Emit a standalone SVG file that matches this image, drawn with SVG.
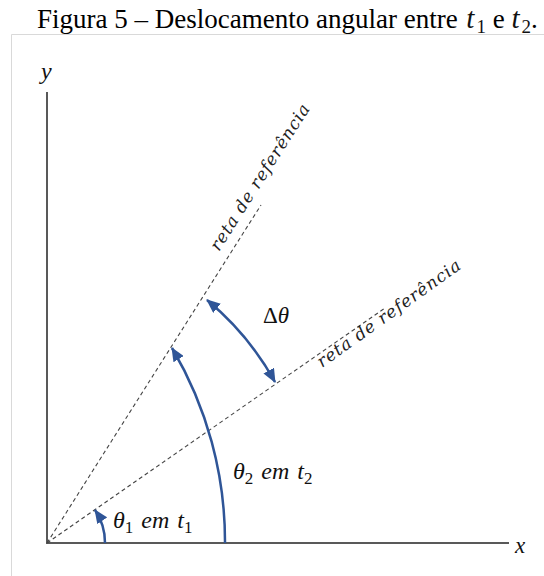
<svg xmlns="http://www.w3.org/2000/svg" width="544" height="576" viewBox="0 0 544 576">
<style>
.title{font-family:"Liberation Serif",serif;font-size:27px;fill:#000}
.math{font-family:"Liberation Serif","DejaVu Serif",serif;font-style:italic;fill:#111}
.sub{font-style:normal}
.lbl{font-family:"DejaVu Serif",serif;font-style:italic;font-size:17px;fill:#222}
.ref{stroke:#444;stroke-width:1.1;stroke-dasharray:4 3;fill:none}
.arc{stroke:#2F5597;stroke-width:2.5;fill:none}
.frame{stroke:#d9d9d9;stroke-width:1;fill:none}
</style>
<defs>
<marker id="ah" viewBox="0 0 14 12" refX="13" refY="6" markerWidth="14" markerHeight="12" markerUnits="userSpaceOnUse" orient="auto-start-reverse">
<path d="M0,0 L14,6 L0,12 z" fill="#2F5597"/>
</marker>
</defs>
<rect width="544" height="576" fill="#fff"/>
<text class="title" x="37" y="28">Figura 5 – Deslocamento angular entre <tspan class="math" font-size="29" dx="2">t</tspan><tspan class="math sub" font-size="19" dy="5" dx="2">1</tspan><tspan dy="-5"> e </tspan><tspan class="math" font-size="29">t</tspan><tspan class="math sub" font-size="19" dy="5" dx="2">2</tspan><tspan dy="-5">.</tspan></text>
<g id="frame">
<line class="frame" x1="11.5" y1="34.5" x2="544" y2="34.5"/>
<line class="frame" x1="11.5" y1="34.5" x2="11.5" y2="576"/>
</g>
<g id="axes">
<line x1="47" y1="92" x2="47" y2="543" stroke="#222" stroke-width="1.5"/>
<line x1="46" y1="543" x2="509" y2="543" stroke="#595959" stroke-width="2"/>
<text class="math" x="41" y="79" font-size="24">y</text>
<text class="math" x="515" y="553" font-size="23">x</text>
</g>
<g id="connectors">
<line class="ref" x1="47" y1="543" x2="261" y2="205"/>
<line class="ref" x1="47" y1="543" x2="385" y2="308"/>
<path class="arc" d="M105,543 A58,58 0 0 0 95,510" marker-end="url(#ah)"/>
<path class="arc" d="M225,543 A380,380 0 0 0 172,348" marker-end="url(#ah)"/>
<path class="arc" d="M207,300 A285,285 0 0 1 275,382" marker-start="url(#ah)" marker-end="url(#ah)"/>
</g>
<g id="label-ref1">
<text class="lbl" x="219" y="252" textLength="170" lengthAdjust="spacing" transform="rotate(-57.5 219 252)">reta de referência</text>
</g>
<g id="label-ref2">
<text class="lbl" x="322" y="368" textLength="172" lengthAdjust="spacing" transform="rotate(-35.5 322 368)">reta de referência</text>
</g>
<g id="label-dtheta">
<text x="263" y="323" font-size="23" class="math"><tspan font-style="normal">Δ</tspan>θ</text>
</g>
<g id="label-theta2">
<text x="233" y="479" font-size="24" class="math">θ<tspan class="sub" font-size="17" dy="5">2</tspan><tspan dy="-5" dx="8">em</tspan><tspan dx="8">t</tspan><tspan class="sub" font-size="17" dy="5">2</tspan></text>
</g>
<g id="label-theta1">
<text x="113" y="528" font-size="24" class="math">θ<tspan class="sub" font-size="17" dy="5">1</tspan><tspan dy="-5" dx="8">em</tspan><tspan dx="8">t</tspan><tspan class="sub" font-size="17" dy="5">1</tspan></text>
</g>
</svg>
